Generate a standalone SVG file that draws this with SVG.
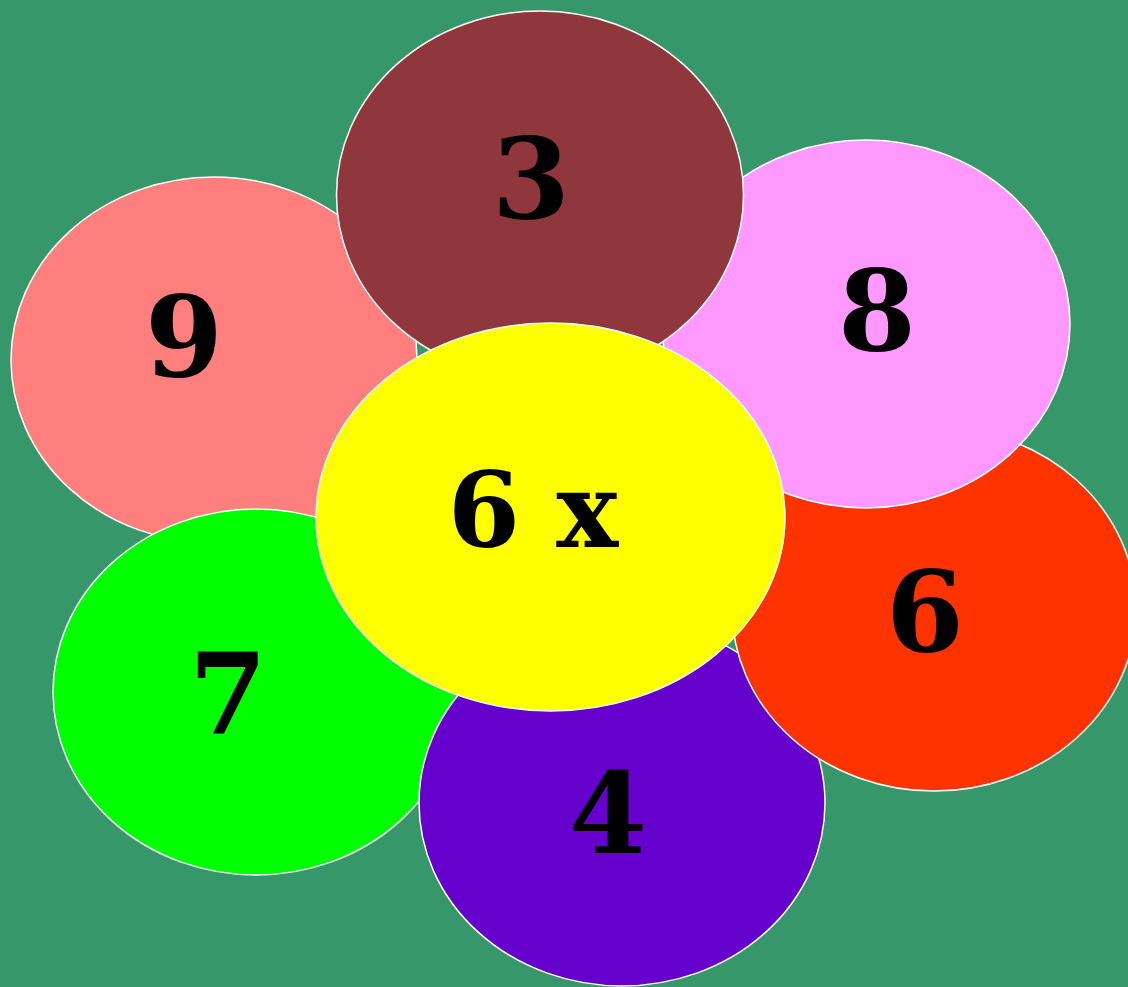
<svg xmlns="http://www.w3.org/2000/svg" width="1128" height="987" viewBox="0 0 1128 987">
<style>
.p{stroke:#ffffff;stroke-width:1.5}
.t{font-family:"DejaVu Serif",serif;font-weight:bold;font-size:112px;fill:#000;text-anchor:middle}
.c{font-size:104px}
</style>
<rect width="1128" height="987" fill="#36986a"/>
<g id="n9"><ellipse class="p" cx="214" cy="360" rx="203" ry="183" fill="#ff7f7f"/><text class="t" x="184" y="376">9</text></g>
<g id="n7"><ellipse class="p" cx="256" cy="692" rx="203" ry="183" fill="#00ff00"/><text class="t" x="228" y="733">7</text></g>
<g id="n4"><ellipse class="p" cx="622" cy="803" rx="203" ry="183" fill="#6600cc"/><text class="t" x="608" y="853">4</text></g>
<g id="n6"><ellipse class="p" cx="934" cy="609" rx="202" ry="182" fill="#ff3300"/><text class="t" x="925" y="651">6</text></g>
<g id="n8"><ellipse class="p" cx="866" cy="324" rx="204" ry="184" fill="#ff99ff"/><text class="t" x="877" y="350">8</text></g>
<g id="n3"><ellipse class="p" cx="540" cy="195" rx="203.5" ry="184" fill="#8f373c"/><text class="t" x="531" y="218">3</text></g>
<g id="center"><ellipse class="p" cx="550.5" cy="517" rx="234.5" ry="194" fill="#ffff00"/><text class="t c" x="533" y="547">6 x</text></g>
<g id="connectors"/>
</svg>
